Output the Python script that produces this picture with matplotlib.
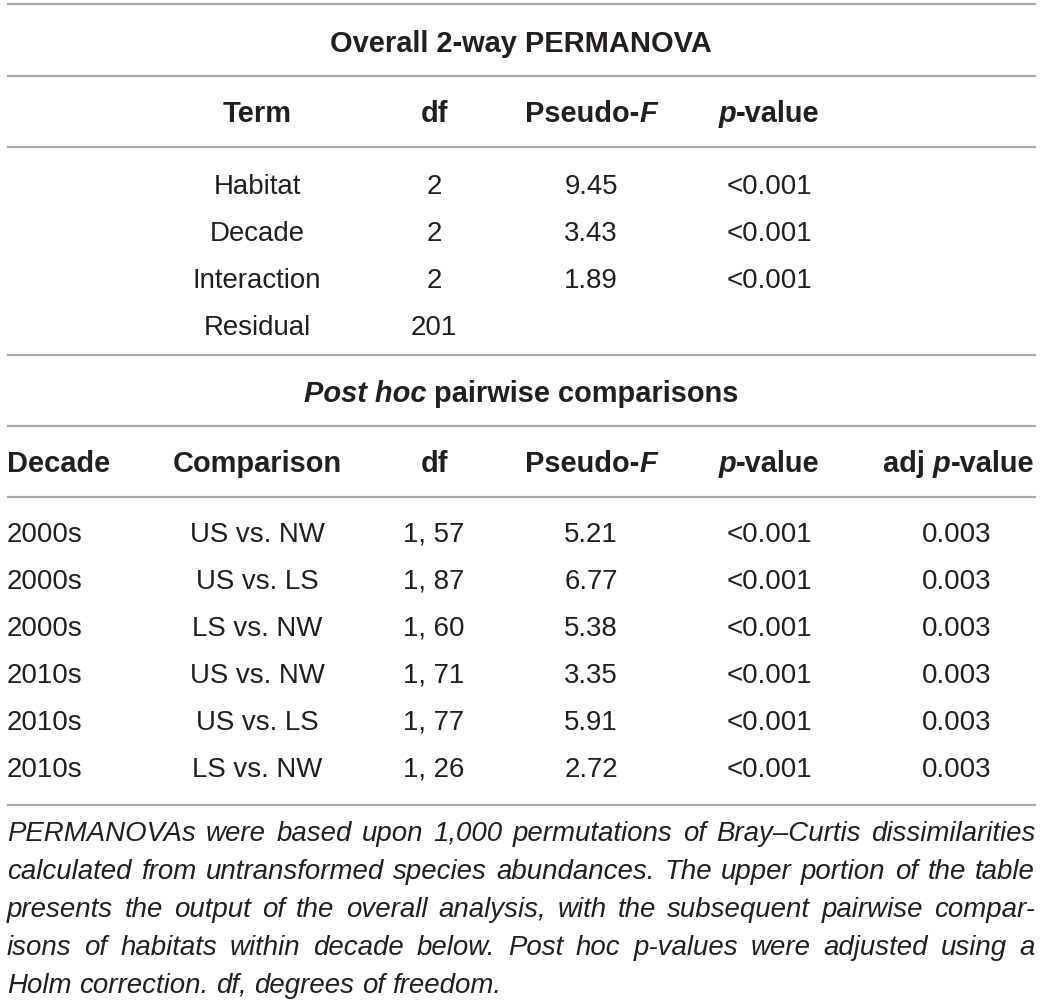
import matplotlib
matplotlib.use("Agg")
import matplotlib.pyplot as plt

# ---------------- data ----------------
title_top = "Overall 2-way PERMANOVA"
terms = ["Habitat", "Decade", "Interaction", "Residual"]
term_df = ["2", "2", "2", "201"]
term_F = ["9.45", "3.43", "1.89", ""]
term_p = ["<0.001", "<0.001", "<0.001", ""]

decades = ["2000s", "2000s", "2000s", "2010s", "2010s", "2010s"]
comparisons = ["US vs. NW", "US vs. LS", "LS vs. NW", "US vs. NW", "US vs. LS", "LS vs. NW"]
pair_df = ["1, 57", "1, 87", "1, 60", "1, 71", "1, 77", "1, 26"]
pair_F = ["5.21", "6.77", "5.38", "3.35", "5.91", "2.72"]
pair_p = ["<0.001"] * 6
pair_adj = ["0.003"] * 6

footnote_lines = [
    "PERMANOVAs were based upon 1,000 permutations of Bray\u2013Curtis dissimilarities",
    "calculated from untransformed species abundances. The upper portion of the table",
    "presents the output of the overall analysis, with the subsequent pairwise compar-",
    "isons of habitats within decade below. Post hoc p-values were adjusted using a",
    "Holm correction. df, degrees of freedom.",
]

# ---------------- style ----------------
W, H = 1041, 1004
FONT = "Liberation Sans"
SIZE = 19.9
BSIZE = 20.9
TXT = "#231f20"
LINE = "#a9a9a9"

fig = plt.figure(figsize=(W / 100, H / 100), dpi=100)
ax = fig.add_axes([0, 0, 1, 1])
ax.set_xlim(0, W)
ax.set_ylim(H, 0)
ax.axis("off")
fig.canvas.draw()
renderer = fig.canvas.get_renderer()

REG = dict(style="normal", weight="normal")
BOLD = dict(style="normal", weight="bold")
BI = dict(style="italic", weight="bold")
IT = dict(style="italic", weight="normal")


def measure(s, size=SIZE, **kw):
    t = ax.text(0, 0, "x" + s + "x", fontsize=size, family=FONT, **kw)
    w1 = t.get_window_extent(renderer).width
    t.remove()
    t = ax.text(0, 0, "xx", fontsize=size, family=FONT, **kw)
    w0 = t.get_window_extent(renderer).width
    t.remove()
    return w1 - w0


def seg_text(x, y, segs, ha="center", size=SIZE):
    widths = [measure(s, size, **st) for s, st in segs]
    total = sum(widths)
    if ha == "center":
        x0 = x - total / 2
    elif ha == "right":
        x0 = x - total
    else:
        x0 = x
    for (s, st), w in zip(segs, widths):
        ax.text(x0, y, s, fontsize=size, family=FONT, color=TXT,
                ha="left", va="baseline", **st)
        x0 += w


def head(x, y, segs, ha="center"):
    seg_text(x, y, segs, ha=ha, size=BSIZE)


def hline(y):
    ax.plot([7, 1036], [y, y], color=LINE, lw=1.6, solid_capstyle="butt")


# ---------------- rules ----------------
for yy in [5, 77, 148, 356, 427, 498, 806]:
    hline(yy)

# ---------------- upper table ----------------
xc_term, xc_df, xc_F, xc_p, xc_adj = 257, 434, 591, 769, 957

head(521, 52, [(title_top, BOLD)])
head(xc_term, 122, [("Term", BOLD)])
head(xc_df, 122, [("df", BOLD)])
head(xc_F, 122, [("Pseudo-", BOLD), ("F", BI)])
head(xc_p, 122, [("p", BI), ("-value", BOLD)])

for i, (t, d, f, p) in enumerate(zip(terms, term_df, term_F, term_p)):
    y = 194 + 47 * i
    seg_text(xc_term, y, [(t, REG)])
    seg_text(xc_df, y, [(d, REG)])
    if f:
        seg_text(xc_F, y, [(f, REG)])
    if p:
        seg_text(xc_p, y, [(p, REG)])

# ---------------- lower table ----------------
head(521, 402, [("Post hoc", BI), (" pairwise comparisons", BOLD)])
head(7, 472, [("Decade", BOLD)], ha="left")
head(xc_term, 472, [("Comparison", BOLD)])
head(xc_df, 472, [("df", BOLD)])
head(xc_F, 472, [("Pseudo-", BOLD), ("F", BI)])
head(xc_p, 472, [("p", BI), ("-value", BOLD)])
head(1034, 472, [("adj ", BOLD), ("p", BI), ("-value", BOLD)], ha="right")

for i in range(len(decades)):
    y = 542 + 47 * i
    seg_text(7, y, [(decades[i], REG)], ha="left")
    seg_text(xc_term, y, [(comparisons[i], REG)])
    seg_text(xc_df, y, [(pair_df[i], REG)])
    seg_text(xc_F, y, [(pair_F[i], REG)])
    seg_text(xc_p, y, [(pair_p[i], REG)])
    seg_text(xc_adj, y, [(pair_adj[i], REG)])

# ---------------- footnote (justified) ----------------
left, right = 7, 1035
fsize = 24.0
space_w = measure(" ", fsize, **IT)
nat = max(sum(measure(w, fsize, **IT) for w in ln.split()) + space_w * (len(ln.split()) - 1)
          for ln in footnote_lines[:-1])
fsize *= (right - left) * 0.985 / nat

for k, ln in enumerate(footnote_lines):
    y = 841 + 38 * k
    words = ln.split()
    widths = [measure(w, fsize, **IT) for w in words]
    if k < len(footnote_lines) - 1:
        gap = ((right - left) - sum(widths)) / (len(words) - 1)
    else:
        gap = measure(" ", fsize, **IT)
    x = left
    for w, ww in zip(words, widths):
        ax.text(x, y, w, fontsize=fsize, family=FONT, color=TXT,
                ha="left", va="baseline", **IT)
        x += ww + gap

fig.savefig("out.png", dpi=100)
